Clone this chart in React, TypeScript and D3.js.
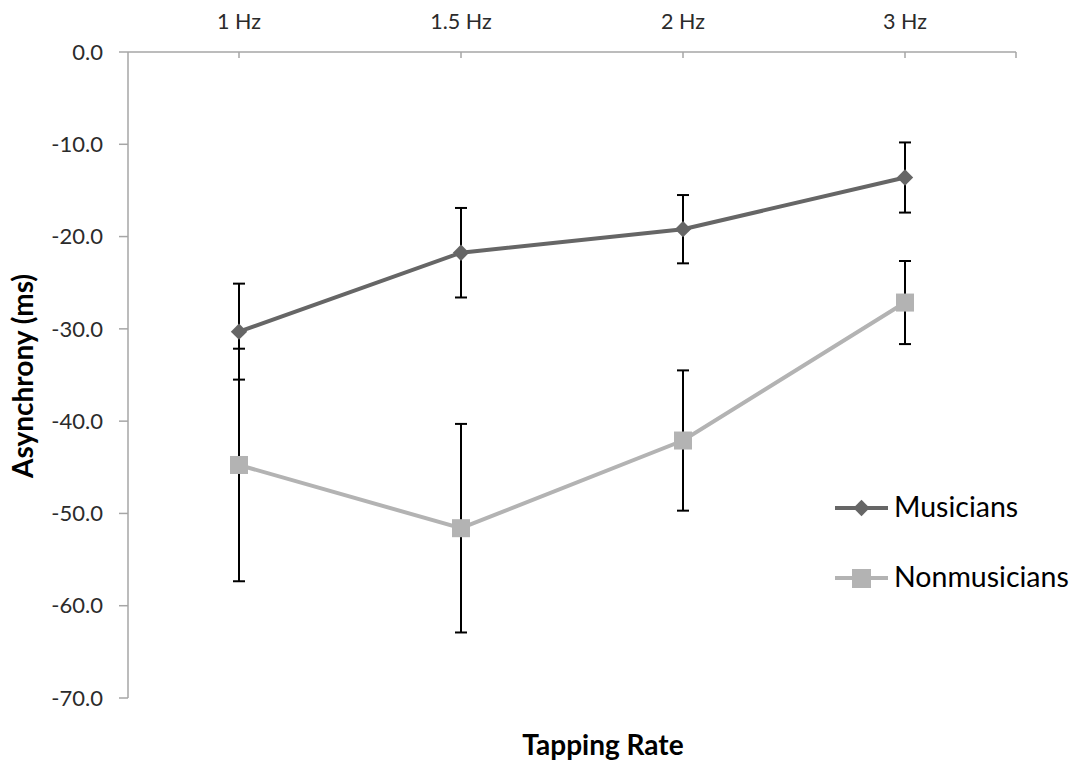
import React from "react";
import * as d3 from "d3";

const categories = ["1 Hz", "1.5 Hz", "2 Hz", "3 Hz"];
const musicians = [-30.3, -21.75, -19.2, -13.6];
const musiciansErr = [5.2, 4.85, 3.7, 3.8];
const nonmusicians = [-44.75, -51.6, -42.1, -27.15];
const nonmusiciansErr = [12.6, 11.3, 7.6, 4.5];
const yTicks = [0, -10, -20, -30, -40, -50, -60, -70];

const W = 1076;
const H = 767;
const FONT = "Lato, 'Noto Sans', sans-serif";

export default function App() {
  const x = d3.scaleBand<string>().domain(categories).range([128, 1016]).padding(0);
  const cx = (c: string) => (x(c) as number) + x.bandwidth() / 2;
  const y = d3.scaleLinear().domain([0, -70]).range([52, 698]);

  const line = d3
    .line<number>()
    .x((_, i) => cx(categories[i]))
    .y((d) => y(d));

  const musColor = "#666666";
  const nonColor = "#b3b3b3";
  const axisColor = "#a6a6a6";
  const textColor = "#2b2b2b";

  const xTickPos = [...categories.map(cx), 1016];
  const diamond = d3.symbol().type(d3.symbolDiamond2).size(170)() as string;

  const errBars = (vals: number[], errs: number[], key: string) =>
    vals.map((v, i) => {
      const px = cx(categories[i]);
      const y1 = y(v + errs[i]);
      const y2 = y(v - errs[i]);
      return (
        <g key={key + i} stroke="#000" strokeWidth={2}>
          <line x1={px} x2={px} y1={y1} y2={y2} />
          <line x1={px - 6} x2={px + 6} y1={y1} y2={y1} />
          <line x1={px - 6} x2={px + 6} y1={y2} y2={y2} />
        </g>
      );
    });

  return (
    <svg
      width={W}
      height={H}
      style={{ position: "absolute", left: 0, top: 0, background: "#fff" }}
      fontFamily={FONT}
    >
      {/* axes */}
      <line x1={128} x2={1016} y1={52} y2={52} stroke={axisColor} strokeWidth={1.5} />
      <line x1={128} x2={128} y1={52} y2={698} stroke={axisColor} strokeWidth={1.5} />
      {xTickPos.map((p, i) => (
        <line key={"xt" + i} x1={p} x2={p} y1={52} y2={58} stroke={axisColor} strokeWidth={1.5} />
      ))}
      {yTicks.map((t) => (
        <g key={"yt" + t}>
          <line x1={119} x2={128} y1={y(t)} y2={y(t)} stroke={axisColor} strokeWidth={1.5} />
          <text x={103} y={y(t)} dy="0.35em" textAnchor="end" fontSize={22} fill={textColor}>
            {t.toFixed(1)}
          </text>
        </g>
      ))}
      {categories.map((c) => (
        <text key={"xl" + c} x={cx(c)} y={29} textAnchor="middle" fontSize={21.5} fill={textColor}>
          {c}
        </text>
      ))}

      {/* error bars */}
      {errBars(musicians, musiciansErr, "me")}
      {errBars(nonmusicians, nonmusiciansErr, "ne")}

      {/* lines */}
      <path d={line(nonmusicians) as string} fill="none" stroke={nonColor} strokeWidth={4} />
      <path d={line(musicians) as string} fill="none" stroke={musColor} strokeWidth={4} />
      {nonmusicians.map((v, i) => (
        <rect key={"nm" + i} x={cx(categories[i]) - 9} y={y(v) - 9} width={18} height={18} fill={nonColor} />
      ))}
      {musicians.map((v, i) => (
        <path key={"mm" + i} d={diamond} transform={`translate(${cx(categories[i])},${y(v)})`} fill={musColor} />
      ))}

      {/* legend */}
      <g>
        <line x1={835} x2={888} y1={508} y2={508} stroke={musColor} strokeWidth={4} />
        <path d={diamond} transform="translate(861.5,508)" fill={musColor} />
        <text x={894} y={517} fontSize={28.5} fill="#000">Musicians</text>
        <line x1={835} x2={888} y1={578} y2={578} stroke={nonColor} strokeWidth={4} />
        <rect x={852} y={569} width={19} height={19} fill={nonColor} />
        <text x={894} y={587} fontSize={28.5} fill="#000">Nonmusicians</text>
      </g>

      {/* titles */}
      <text x={603} y={755} textAnchor="middle" fontSize={28} fontWeight="bold" fill="#000">
        Tapping Rate
      </text>
      <text
        transform="translate(33,376) rotate(-90)"
        textAnchor="middle"
        fontSize={28}
        fontWeight="bold"
        fill="#000"
      >
        Asynchrony (ms)
      </text>
    </svg>
  );
}
